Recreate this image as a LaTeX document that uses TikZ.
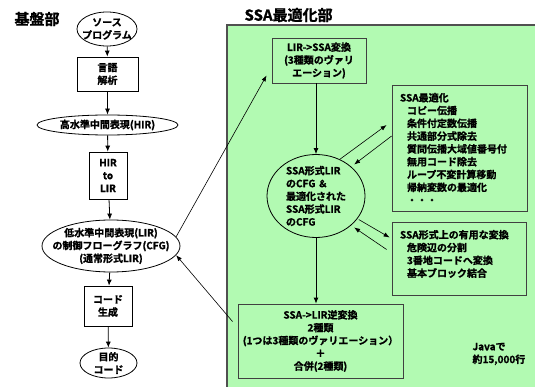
\documentclass[tikz,border=0pt]{standalone}
\usepackage{fontspec}
\setmainfont{Noto Sans CJK JP}[BoldFont={* Bold},BoldFeatures={FakeBold=1.2}]
\usepackage{tikz}
\usetikzlibrary{arrows.meta,shapes.geometric,calc}
\definecolor{ssagreen}{RGB}{178,250,178}
\definecolor{ssaframe}{RGB}{80,80,80}
\begin{document}
\begin{tikzpicture}[x=1pt,y=-1pt,
  every node/.style={font=\bfseries\fontsize{10}{12.8}\selectfont},
  procbox/.style={draw,rectangle,inner sep=0pt,align=center,line width=0.8pt},
  gbox/.style={draw=black!75,rectangle,inner sep=0pt,line width=0.8pt},
  ellnode/.style={draw,ellipse,inner sep=0pt,align=center,line width=0.8pt},
  flow/.style={-{Latex[length=6pt,width=5pt]},line width=0.8pt},
  thinflow/.style={-{Latex[length=6pt,width=4.5pt]},line width=0.6pt},
  bigtitle/.style={anchor=west,font=\bfseries\fontsize{15}{18}\selectfont}]
\useasboundingbox (0,0) rectangle (535,387);
% SSA part background
\fill[ssagreen] (227,25) rectangle (535,387);
\draw[ssaframe,line width=1.2pt] (535,25) -- (227,25) -- (227,387);
\node[bigtitle] (basetitle) at (11,19) {基盤部};
\node[bigtitle] (ssatitle) at (241,15) {SSA最適化部};
% front end / back end
\node[ellnode,minimum width=60pt,minimum height=34pt,inner xsep=-4pt] (src) at (107,29) {ソース\\プログラム};
\node[procbox,minimum width=61pt,minimum height=34pt] (lex) at (107.5,74) {言語\\解析};
\node[ellnode,minimum width=141pt,minimum height=20pt] (hir) at (107.5,125) {高水準中間表現(HIR)};
\node[procbox,minimum width=38pt,minimum height=47pt] (h2l) at (108,175.5) {HIR\\to\\LIR};
\node[ellnode,minimum width=138pt,minimum height=52pt,inner xsep=-10pt] (lir) at (111,246) {低水準中間表現(LIR)\\の制御フローグラフ(CFG)\\(通常形式LIR)};
\node[procbox,minimum width=48pt,minimum height=40pt] (gen) at (108,306) {コード\\生成};
\node[ellnode,minimum width=57pt,minimum height=30pt,inner ysep=-1.5pt] (dst) at (108.5,363) {目的\\コード};
\draw[flow] (src) -- (lex);
\draw[flow] (lex) -- (hir);
\draw[flow] (hir) -- (h2l);
\draw[flow] (h2l) -- (lir);
\draw[flow] (lir) -- (gen);
\draw[flow] (gen) -- (dst);
% SSA optimizer
\node[gbox,align=center,minimum width=94pt,minimum height=45pt] (l2s) at (319,60.5) {LIR->SSA変換\\(3種類のヴァリ\\エーション)};
\node[ellnode,align=left,minimum width=98pt,minimum height=83pt,inner xsep=-3pt,inner ysep=-2pt] (ssa) at (316,196) {SSA形式LIR\\のCFG ＆\\最適化された\\SSA形式LIR\\のCFG};
\node[gbox,inner xsep=8pt,inner ysep=8pt] (opt) at (459.5,148) {\parbox[c][110pt][t]{119pt}{SSA最適化\\
  \hspace*{7pt}コピー伝播\\
  \hspace*{7pt}条件付定数伝播\\
  \hspace*{7pt}共通部分式除去\\
  \hspace*{7pt}質問伝播大域値番号付\\
  \hspace*{7pt}無用コード除去\\
  \hspace*{7pt}ループ不変計算移動\\
  \hspace*{7pt}帰納変数の最適化\\
  \hspace*{7pt}・・・}};
\node[gbox,inner xsep=8pt,inner ysep=8pt] (useful) at (459,258.5) {\parbox[c][57pt][t]{118pt}{SSA形式上の有用な変換\\
  \hspace*{7pt}危険辺の分割\\
  \hspace*{7pt}3番地コードへ変換\\
  \hspace*{7pt}基本ブロック結合}};
\node[gbox,align=center,minimum width=165pt,minimum height=74pt] (inv) at (320.5,341) {SSA->LIR逆変換\\2種類\\(1つは3種類のヴァリエーション）\\＋\\合併(2種類)};
\node[anchor=west,align=left] (java) at (469,354) {Javaで\\約15,000行};
\draw[thinflow] (lir.8) -- ([xshift=-5pt,yshift=8pt]l2s.south west);
\draw[flow] (ssa.north |- l2s.south) -- (ssa.north);
\draw[thinflow] (ssa.57) -- ([xshift=-5pt,yshift=23pt]opt.west);
\draw[thinflow] ([yshift=12pt]opt.west) -- ([shift={(3pt,2pt)}]ssa.40);
\draw[thinflow] ([shift={(2pt,0pt)}]ssa.-30) -- ([xshift=-2pt,yshift=21pt]useful.west);
\draw[thinflow] ([xshift=-5pt,yshift=9pt]useful.west) -- ([shift={(3pt,-2pt)}]ssa.-40);
\draw[flow] (ssa.south) -- (ssa.south |- inv.north);
\draw[thinflow] ([xshift=-5pt,yshift=-18pt]inv.north west) -- (lir.-8);
\end{tikzpicture}
\end{document}
